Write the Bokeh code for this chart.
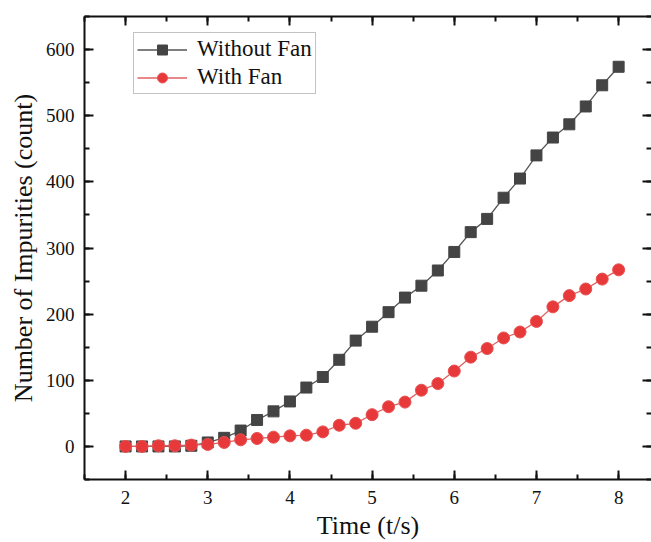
from bokeh.plotting import figure
from bokeh.models import (Range1d, LinearAxis, SingleIntervalTicker, Legend, LegendItem,
                          CustomJSTickFormatter)
from bokeh.embed import file_html
from bokeh.resources import INLINE

time_s = [2.0, 2.2, 2.4, 2.6, 2.8, 3.0, 3.2, 3.4, 3.6, 3.8, 4.0, 4.2, 4.4, 4.6, 4.8,
          5.0, 5.2, 5.4, 5.6, 5.8, 6.0, 6.2, 6.4, 6.6, 6.8, 7.0, 7.2, 7.4, 7.6, 7.8, 8.0]
without_fan = [0, 0, 0, 0, 1, 6, 13, 24, 40, 53, 68, 89, 105, 131, 160,
               181, 203, 225, 243, 266, 294, 324, 344, 376, 405, 440, 467, 487, 514, 546, 574]
with_fan = [0, 0, 1, 1, 2, 3, 6, 10, 12, 14, 16, 17, 22, 32, 35,
            48, 60, 67, 85, 95, 114, 135, 148, 164, 173, 189, 211, 228, 238, 253, 267]

label_without = "Without Fan"
label_with = "With Fan"
x_title = "Time (t/s)"
y_title = "Number of Impurities (count)"

FONT = "Liberation Serif"
GRAY = "#444444"
RED = "#E8393A"

p = figure(width=651, height=542, output_backend="svg", toolbar_location=None,
           x_range=Range1d(1.5, 8.4), y_range=Range1d(-50, 650),
           min_border_left=84, min_border_right=0, min_border_top=16, min_border_bottom=62,
           x_axis_location=None, y_axis_location=None)
p.grid.visible = False
p.background_fill_color = "white"
p.border_fill_color = "white"
p.outline_line_color = None

xt = SingleIntervalTicker(interval=1, num_minor_ticks=2)
yt = SingleIntervalTicker(interval=100, num_minor_ticks=2)

def style(ax, labels=True):
    ax.axis_line_color = "#111111"
    ax.axis_line_width = 2
    ax.major_tick_in = 9
    ax.major_tick_out = 0
    ax.minor_tick_in = 5
    ax.minor_tick_out = 0
    ax.major_tick_line_width = 2
    ax.minor_tick_line_width = 2
    ax.major_tick_line_color = "#111111"
    ax.minor_tick_line_color = "#111111"
    if labels:
        ax.major_label_text_font = FONT
        ax.major_label_text_font_size = "19px"
        ax.major_label_text_color = "#111111"
        ax.axis_label_text_font = FONT
        ax.axis_label_text_font_size = "26px"
        ax.axis_label_text_font_style = "normal"
        ax.axis_label_text_color = "#111111"
    else:
        ax.formatter = CustomJSTickFormatter(code="return ''")
        ax.major_label_text_font_size = "0px"
        ax.major_label_standoff = 0
        ax.axis_label_standoff = 0

xb = LinearAxis(ticker=xt, axis_label=x_title)
style(xb)
xb.major_label_standoff = 11
xb.axis_label_standoff = 4
p.add_layout(xb, "below")

yl = LinearAxis(ticker=yt, axis_label=y_title)
style(yl)
yl.major_label_standoff = 10
yl.axis_label_standoff = 5
p.add_layout(yl, "left")

xtop = LinearAxis(ticker=xt)
style(xtop, labels=False)
p.add_layout(xtop, "above")

yr = LinearAxis(ticker=yt)
style(yr, labels=False)
yr.axis_line_color = None
p.add_layout(yr, "right")

l1 = p.line(time_s, without_fan, line_color="#555555", line_width=1.3)
s1 = p.scatter(time_s, without_fan, marker="square", size=11, fill_color=GRAY, line_color=GRAY)
l2 = p.line(time_s, with_fan, line_color="#E06060", line_width=1.3)
s2 = p.scatter(time_s, with_fan, marker="circle", size=12, fill_color=RED, line_color="#E85050")

legend = Legend(items=[LegendItem(label=label_without, renderers=[l1, s1]),
                       LegendItem(label=label_with, renderers=[l2, s2])],
                location=(49, 385))
legend.margin = 0
legend.padding = 3
legend.spacing = 2
legend.glyph_width = 50
legend.glyph_height = 25
legend.label_height = 25
legend.label_standoff = 10
legend.label_text_font = FONT
legend.label_text_font_size = "23px"
legend.label_text_color = "#111111"
legend.border_line_color = "#888888"
legend.border_line_width = 1
legend.background_fill_color = "white"
p.add_layout(legend, "center")

open("out.html", "w").write(file_html(p, INLINE))
